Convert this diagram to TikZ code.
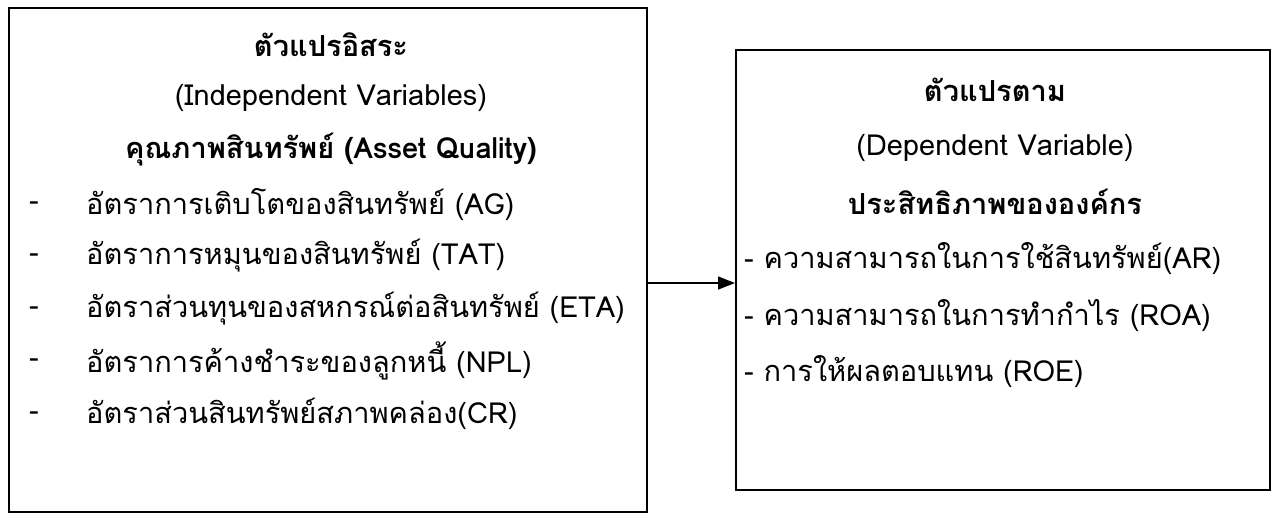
\documentclass[tikz,border=0pt]{standalone}
\usepackage{fontspec}
\usetikzlibrary{arrows.meta}
\newfontfamily\thaifont[Script=Thai]{Loma}
\begin{document}
\begin{tikzpicture}[x=1pt,y=-1pt,
  every node/.style={font=\thaifont\fontsize{29}{35}\selectfont, inner sep=0pt},
  boxst/.style={draw, line width=1.8pt},
  ttl/.style={anchor=center, font=\thaifont\bfseries\fontsize{29}{35}\selectfont},
  sub/.style={anchor=center},
  item/.style={anchor=west},
  dashst/.style={anchor=center}]
\useasboundingbox (0,0) rectangle (1274,514);
\node[boxst, minimum width=638pt, minimum height=504pt, anchor=north west] (lbox) at (8,7) {};
\node[boxst, minimum width=534pt, minimum height=440pt, anchor=north west] (rbox) at (735,49) {};
% left box text
\node[ttl] (l1) at (331,45) {ตัวแปรอิสระ};
\node[sub] (l2) at (331,98) {(Independent Variables)};
\node[ttl] (l3) at (331,150) {คุณภาพสินทรัพย์ (Asset Quality)};
\node[dashst] (d1) at (34,206) {-};
\node[item] (l4) at (86,204) {อัตราการเติบโตของสินทรัพย์ (AG)};
\node[dashst] (d2) at (34,258) {-};
\node[item] (l5) at (86,256) {อัตราการหมุนของสินทรัพย์ (TAT)};
\node[dashst] (d3) at (34,311) {-};
\node[item] (l6) at (86,309) {อัตราส่วนทุนของสหกรณ์ต่อสินทรัพย์ (ETA)};
\node[dashst] (d4) at (34,363) {-};
\node[item] (l7) at (86,361) {อัตราการค้างชำระของลูกหนี้ (NPL)};
\node[dashst] (d5) at (34,416) {-};
\node[item] (l8) at (86,414) {อัตราส่วนสินทรัพย์สภาพคล่อง(CR)};
% right box text
\node[ttl] (r1) at (995,90) {ตัวแปรตาม};
\node[sub] (r2) at (995,148) {(Dependent Variable)};
\node[ttl] (r3) at (995,202) {ประสิทธิภาพขององค์กร};
\node[item] (r4) at (744,259) {- ความสามารถในการใช้สินทรัพย์(AR)};
\node[item] (r5) at (744,316) {- ความสามารถในการทำกำไร (ROA)};
\node[item] (r6) at (744,372) {- การให้ผลตอบแทน (ROE)};
% arrow
\coordinate (ay) at (0,283);
\draw[line width=1.4pt, -{Triangle[length=17pt,width=13pt]}] (lbox.east |- ay) -- (rbox.west |- ay);
\end{tikzpicture}
\end{document}
